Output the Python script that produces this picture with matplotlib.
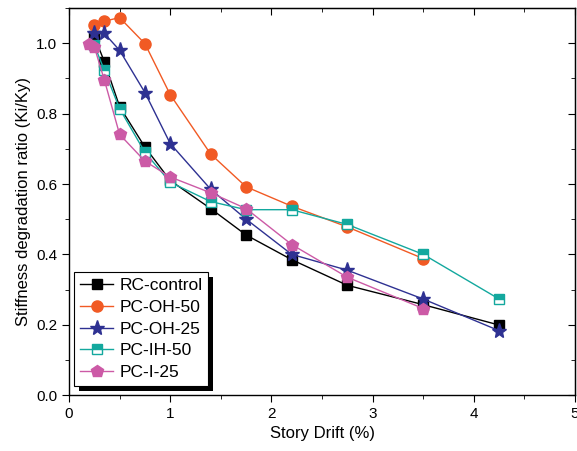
import matplotlib
matplotlib.use('Agg')
import matplotlib.pyplot as plt
from matplotlib.patches import Rectangle
from matplotlib.transforms import IdentityTransform
from matplotlib.ticker import MultipleLocator

plt.rcParams['font.family'] = ['Liberation Sans', 'DejaVu Sans']
plt.rcParams['font.size'] = 11

# story drift levels (%)
drift = [0.25, 0.35, 0.5, 0.75, 1.0, 1.4, 1.75, 2.2, 2.75, 3.5, 4.25]
drift_pi = [0.2, 0.25, 0.35, 0.5, 0.75, 1.0, 1.4, 1.75, 2.2, 2.75, 3.5]

rc_control = [1.02, 0.947, 0.82, 0.705, 0.61, 0.53, 0.455, 0.385, 0.312, 0.257, 0.199]
pc_oh_50 = [1.051, 1.063, 1.073, 0.999, 0.854, 0.685, 0.592, 0.537, 0.478, 0.388]
pc_oh_25 = [1.03, 1.028, 0.98, 0.86, 0.715, 0.585, 0.50, 0.40, 0.355, 0.273, 0.183]
pc_ih_50 = [0.995, 0.923, 0.814, 0.69, 0.605, 0.55, 0.527, 0.527, 0.485, 0.40, 0.273]
pc_i_25 = [0.999, 0.99, 0.895, 0.741, 0.665, 0.62, 0.575, 0.53, 0.428, 0.335, 0.246]

fig = plt.figure(figsize=(5.77, 4.51), dpi=100)
ax = fig.add_axes([0.1196, 0.124, 0.877, 0.858])

ax.plot(drift, rc_control, '-s', color='black', lw=1, ms=7, mfc='black', label='RC-control')
ax.plot(drift[:len(pc_oh_50)], pc_oh_50, '-o', color='#f15a24', lw=1, ms=8, label='PC-OH-50')
ax.plot(drift, pc_oh_25, '-*', color='#2e3192', lw=1, ms=11, label='PC-OH-25')
ax.plot(drift, pc_ih_50, '-s', color='#13a89e', lw=1, ms=7, fillstyle='top',
        mfc='#13a89e', mfcalt='white', mec='#13a89e', label='PC-IH-50')
ax.plot(drift_pi, pc_i_25, '-p', color='#cc5aa6', lw=1, ms=9, label='PC-I-25')

ax.set_xlim(0, 5)
ax.set_ylim(0, 1.1)
ax.xaxis.set_major_locator(MultipleLocator(1))
ax.xaxis.set_minor_locator(MultipleLocator(0.5))
ax.yaxis.set_major_locator(MultipleLocator(0.2))
ax.yaxis.set_minor_locator(MultipleLocator(0.1))
ax.yaxis.set_major_formatter(matplotlib.ticker.FormatStrFormatter('%.1f'))
ax.tick_params(which='both', direction='out', top=False, right=False)
ax.tick_params(which='major', length=5)
ax.tick_params(which='minor', length=3)
for sp in ax.spines.values():
    sp.set_linewidth(1.0)

# inward ticks on the top and right spines
sec_x = ax.secondary_xaxis('top')
sec_x.xaxis.set_major_locator(MultipleLocator(1))
sec_x.xaxis.set_minor_locator(MultipleLocator(0.5))
sec_x.tick_params(which='both', direction='in', labeltop=False)
sec_x.tick_params(which='major', length=5)
sec_x.tick_params(which='minor', length=3)
sec_y = ax.secondary_yaxis('right')
sec_y.yaxis.set_major_locator(MultipleLocator(0.2))
sec_y.yaxis.set_minor_locator(MultipleLocator(0.1))
sec_y.tick_params(which='both', direction='in', labelright=False)
sec_y.tick_params(which='major', length=5)
sec_y.tick_params(which='minor', length=3)

ax.set_xlabel('Story Drift (%)', fontsize=12)
ax.set_ylabel('Stiffness degradation ratio (Ki/Ky)', fontsize=12)

leg = ax.legend(loc='lower left', bbox_to_anchor=(0.01, 0.023), borderaxespad=0,
                fontsize=12.5, fancybox=False, framealpha=1, edgecolor='black',
                handlelength=1.9, borderpad=0.35, labelspacing=0.38, handletextpad=0.35)
leg.get_frame().set_linewidth(0.8)

fig.canvas.draw()
bb = leg.get_window_extent()
shadow = Rectangle((bb.x0 + 5, bb.y0 - 5), bb.width, bb.height, transform=IdentityTransform(),
                   facecolor='black', edgecolor='none', zorder=4.9, clip_on=False)
ax.add_artist(shadow)

fig.savefig('out.png', dpi=100)
